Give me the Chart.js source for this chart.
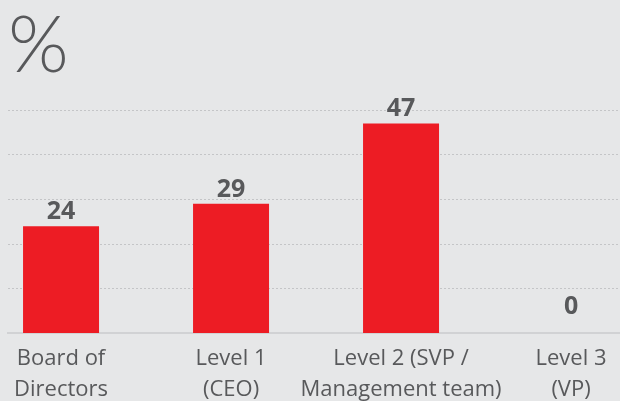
<!DOCTYPE html>
<html>
<head>
<meta charset="utf-8">
<script src="https://cdn.jsdelivr.net/npm/chart.js@4"></script>
<style>
  html, body { margin: 0; padding: 0; background: #e6e7e8; }
  #wrap { width: 620px; height: 401px; }
</style>
</head>
<body>
<div id="wrap"><canvas id="mainChart"></canvas></div>
<script>
const categories = [
    ['Board of', 'Directors'],
    ['Level 1', '(CEO)'],
    ['Level 2 (SVP /', 'Management team)'],
    ['Level 3', '(VP)']
];
const values = [24, 29, 47, 0];
const yTicks = [0, 10, 20, 30, 40, 50];

const textColor = '#58595b';

// value labels over the bars
const valueLabels = {
    id: 'valueLabels',
    afterDatasetsDraw(chart) {
        const ctx = chart.ctx;
        const meta = chart.getDatasetMeta(0);
        const base = chart.scales.y.getPixelForValue(0);
        ctx.save();
        ctx.fillStyle = textColor;
        ctx.font = 'bold 25px "Open Sans"';
        ctx.textAlign = 'center';
        ctx.textBaseline = 'alphabetic';
        meta.data.forEach((bar, i) => {
            let y = Math.min(bar.y - 7, base - 19);
            ctx.fillText(String(values[i]), bar.x, y);
        });
        ctx.restore();
    }
};

const ctxMain = document.getElementById('mainChart').getContext('2d');
window.mainChart = new Chart(ctxMain, {
    type: 'bar',
    data: {
        datasets: [{
            data: values.map((v, i) => ({x: i, y: v})),
            backgroundColor: '#ed1c24',
            borderWidth: 0,
            barPercentage: 0.447,
            categoryPercentage: 1
        }]
    },
    options: {
        responsive: true,
        maintainAspectRatio: false,
        animation: false,
        layout: {padding: {left: 8, right: 0, top: 8, bottom: -14}},
        plugins: {
            legend: {display: false},
            tooltip: {enabled: false},
            title: {
                display: true,
                text: '%',
                align: 'start',
                color: textColor,
                font: {family: 'Lato', size: 78, weight: 300, lineHeight: 1},
                padding: {top: 0, bottom: 24}
            }
        },
        scales: {
            x: {
                type: 'linear',
                offset: false,
                min: -0.312,
                max: 3.288,
                grid: {display: false, drawTicks: false},
                border: {display: true, color: '#d1d2d4', width: 2},
                ticks: {
                    stepSize: 1,
                    includeBounds: false,
                    autoSkip: false,
                    maxRotation: 0,
                    padding: 10,
                    color: textColor,
                    font: {family: 'Open Sans', size: 22, lineHeight: 1.4},
                    callback: (v) => categories[v] || ''
                }
            },
            y: {
                min: yTicks[0],
                max: yTicks[yTicks.length - 1],
                afterBuildTicks: (axis) => { axis.ticks = yTicks.map(v => ({value: v})); },
                grid: {color: '#c4c5c7', lineWidth: 1, drawTicks: false},
                border: {display: false, dash: [2, 2]},
                ticks: {display: false}
            }
        }
    },
    plugins: [valueLabels]
});
</script>
</body>
</html>
